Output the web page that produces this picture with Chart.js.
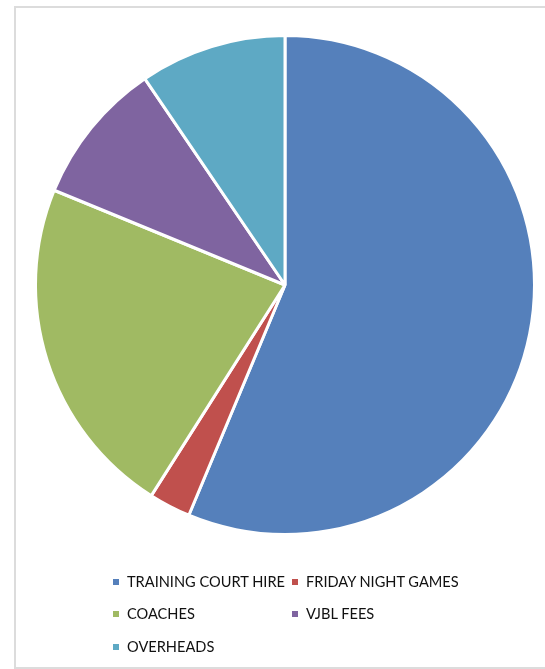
<!DOCTYPE html>
<html>
<head>
<meta charset="utf-8">
<script src="https://cdn.jsdelivr.net/npm/chart.js@4"></script>
<style>
  html, body { margin: 0; padding: 0; background: #fff; }
  body { width: 545px; height: 669px; position: relative; overflow: hidden; }
  #frame { position: absolute; left: 14px; top: 6px; width: 560px; height: 659px;
           border: 2px solid #dcdcdc; border-right: none; }
  #costChart { position: absolute; left: 0; top: 0; }
  .item { position: absolute; font-family: Lato, "Open Sans", sans-serif; font-size: 14.6px;
          color: #111; white-space: nowrap; line-height: 16px; }
  .item span { display: inline-block; width: 6px; height: 6px; margin-right: 8px; vertical-align: 2px; }
</style>
</head>
<body>
<div id="frame"></div>
<canvas id="costChart" width="545" height="669"></canvas>
<div id="legend"></div>
<script>
const categories = ['TRAINING COURT HIRE', 'FRIDAY NIGHT GAMES', 'COACHES', 'VJBL FEES', 'OVERHEADS'];
const shares = [56.3, 2.7, 22.2, 9.3, 9.5];
const sliceColors = ['#5580BB', '#C0504D', '#A0BA63', '#7F64A0', '#5EA9C4'];

const ctx = document.getElementById('costChart').getContext('2d');
const chart = new Chart(ctx, {
    type: 'pie',
    data: {
        labels: categories,
        datasets: [{
            data: shares,
            backgroundColor: sliceColors,
            borderColor: '#ffffff',
            borderWidth: 3
        }]
    },
    options: {
        responsive: false,
        animation: false,
        layout: { padding: { left: 34, top: 34, right: 9, bottom: 133 } },
        plugins: {
            legend: { display: false },
            tooltip: { enabled: false }
        }
    }
});

// legend laid out in two columns like the original
const legend = document.getElementById('legend');
const colX = [113, 292];
const rowY = [574, 606, 639];
categories.forEach((name, i) => {
    const el = document.createElement('div');
    el.className = 'item';
    el.style.left = colX[i % 2] + 'px';
    el.style.top = rowY[Math.floor(i / 2)] + 'px';
    el.innerHTML = '<span style="background:' + sliceColors[i] + '"></span>' + name;
    legend.appendChild(el);
});
</script>
</body>
</html>
